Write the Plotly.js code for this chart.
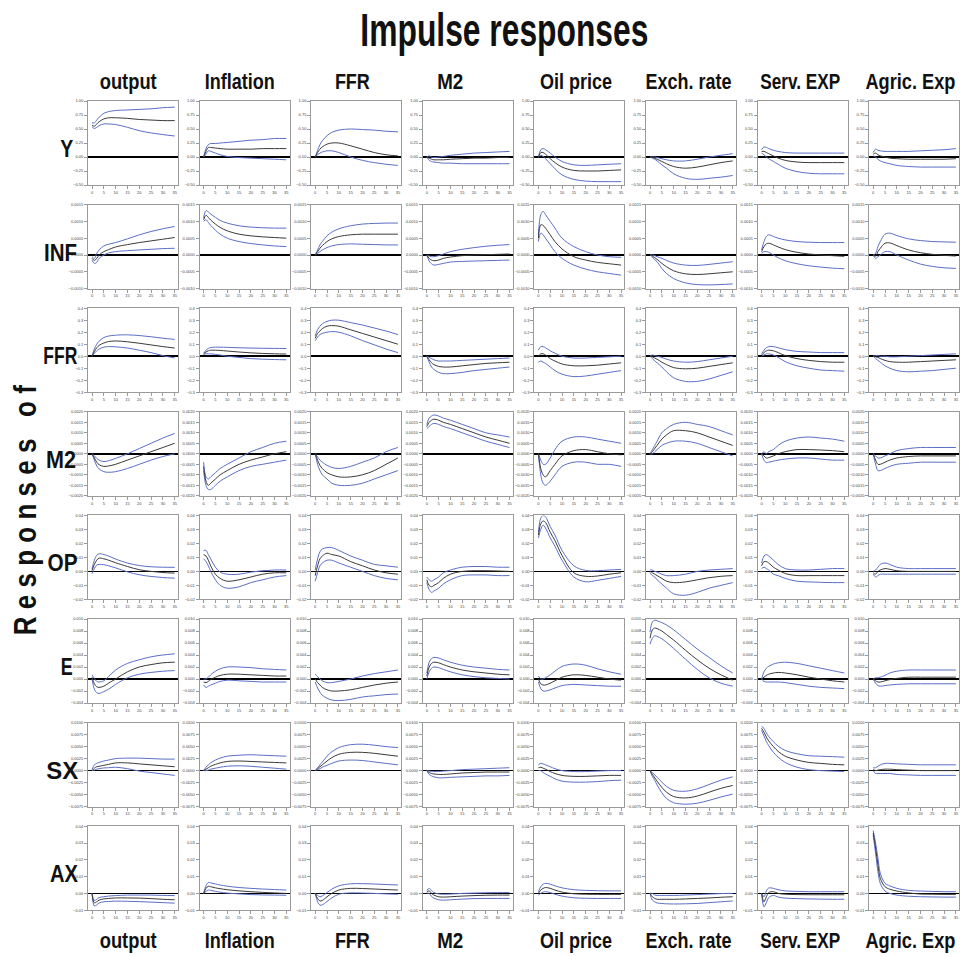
<!DOCTYPE html>
<html>
<head>
<meta charset="utf-8">
<script src="https://cdn.plot.ly/plotly-3.0.1.min.js"></script>
<style>html,body{margin:0;padding:0;background:#fff;}#chart{width:961px;height:956px;}</style>
</head>
<body>
<div id="chart"></div>
<script>
// ---------------- DATA ----------------
const horizons = [0,1,2,3,5,7,10,15,20,25,30,35];
const shocks = ['output','Inflation','FFR','M2','Oil price','Exch. rate','Serv. EXP','Agric. Exp'];
const responses = ['Y','INF','FFR','M2','OP','E','SX','AX'];
const xTicks = [0,5,10,15,20,25,30,35];

// Response of Y to each shock (mid = point estimate, lo/hi = bands)
const Y_mid = [
 [0.57,0.55,0.59,0.63,0.68,0.70,0.70,0.69,0.67,0.66,0.65,0.65],
 [0,0.10,0.17,0.17,0.16,0.15,0.14,0.14,0.14,0.15,0.15,0.15],
 [0,0.08,0.14,0.18,0.23,0.25,0.25,0.2,0.14,0.08,0.04,0.02],
 [0,-0.02,-0.04,-0.05,-0.05,-0.05,-0.04,-0.03,-0.02,-0.02,-0.01,-0.01],
 [0,0.08,0.08,0.05,-0.03,-0.1,-0.18,-0.24,-0.25,-0.25,-0.24,-0.23],
 [0,-0.01,-0.02,-0.04,-0.08,-0.12,-0.17,-0.2,-0.18,-0.14,-0.1,-0.07],
 [0.1,0.1,0.08,0.06,0.02,-0.02,-0.06,-0.09,-0.1,-0.1,-0.1,-0.1],
 [0.05,0.07,0.04,0.02,0.0,-0.02,-0.03,-0.04,-0.04,-0.04,-0.04,-0.03]];
const Y_hi = [
 [0.61,0.61,0.66,0.71,0.78,0.81,0.83,0.84,0.85,0.86,0.88,0.89],
 [0,0.15,0.22,0.24,0.24,0.25,0.26,0.28,0.30,0.31,0.33,0.33],
 [0,0.12,0.22,0.29,0.38,0.44,0.48,0.50,0.49,0.48,0.46,0.45],
 [0,0.02,0.0,-0.01,0.0,0.01,0.03,0.05,0.07,0.08,0.09,0.1],
 [0,0.13,0.15,0.13,0.07,0.0,-0.08,-0.14,-0.15,-0.14,-0.13,-0.12],
 [0,0.0,0.0,-0.01,-0.03,-0.05,-0.07,-0.07,-0.04,0.0,0.03,0.06],
 [0.13,0.18,0.17,0.15,0.12,0.1,0.08,0.07,0.07,0.07,0.07,0.07],
 [0.08,0.14,0.12,0.11,0.1,0.1,0.1,0.1,0.11,0.12,0.13,0.15]];
const Y_lo = [
 [0.54,0.51,0.53,0.56,0.59,0.59,0.58,0.53,0.47,0.43,0.40,0.375],
 [0,0.05,0.11,0.10,0.07,0.04,0.01,-0.01,-0.02,-0.03,-0.04,-0.05],
 [0,0.04,0.07,0.09,0.11,0.11,0.08,0.0,-0.06,-0.1,-0.13,-0.15],
 [0,-0.06,-0.08,-0.09,-0.1,-0.11,-0.11,-0.12,-0.12,-0.12,-0.12,-0.12],
 [0,0.03,0.01,-0.03,-0.12,-0.21,-0.32,-0.40,-0.43,-0.44,-0.44,-0.44],
 [0,-0.02,-0.04,-0.07,-0.14,-0.2,-0.3,-0.38,-0.4,-0.38,-0.36,-0.33],
 [0.07,0.04,0.0,-0.03,-0.08,-0.13,-0.2,-0.26,-0.29,-0.3,-0.3,-0.3],
 [0.02,0.0,-0.04,-0.07,-0.1,-0.12,-0.15,-0.17,-0.18,-0.18,-0.18,-0.18]];

// Response of INF
const INF_mid = [
 [-0.0001,-0.00016,-0.0001,0.0,0.0001,0.00016,0.00024,0.00031,0.00037,0.00042,0.00047,0.00052],
 [0.00105,0.00118,0.00112,0.00104,0.00092,0.00082,0.00072,0.00062,0.00057,0.00054,0.00052,0.0005],
 [0,0.0001,0.0002,0.00028,0.0004,0.00048,0.00055,0.0006,0.00062,0.00062,0.00062,0.00062],
 [0,-0.0001,-0.00015,-0.00017,-0.00015,-0.0001,-0.00006,-0.00002,0.0,0.00001,0.00002,0.00003],
 [0.0005,0.0009,0.00088,0.0008,0.0006,0.0004,0.00018,-0.00005,-0.00015,-0.00022,-0.00026,-0.0003],
 [0,-0.00003,-0.00008,-0.00013,-0.00025,-0.00035,-0.00047,-0.00056,-0.00058,-0.00056,-0.00053,-0.0005],
 [0.0001,0.00025,0.00033,0.00035,0.0003,0.00024,0.00016,0.00008,0.00003,0.0,-0.00002,-0.00004],
 [0,-0.00003,0.0001,0.0002,0.00035,0.00036,0.00028,0.00015,0.00007,0.00002,-0.00001,-0.00003]];
const INF_hi = [
 [-0.00005,-0.0001,0.00005,0.00015,0.00027,0.00032,0.00037,0.00048,0.0006,0.0007,0.00078,0.00085],
 [0.0011,0.00132,0.00128,0.00122,0.00112,0.00103,0.00095,0.00087,0.00083,0.00081,0.0008,0.0008],
 [0,0.00015,0.0003,0.0004,0.00057,0.00068,0.00078,0.00087,0.00092,0.00094,0.00095,0.00095],
 [0,-0.00003,-0.00005,-0.00005,-0.00002,0.00003,0.0001,0.00017,0.00022,0.00026,0.00029,0.00031],
 [0.0006,0.0012,0.0013,0.0012,0.001,0.0008,0.0005,0.00025,0.0001,0.0,-0.00005,-0.00007],
 [0,0.0,-0.00002,-0.00005,-0.0001,-0.00016,-0.00024,-0.0003,-0.00031,-0.00028,-0.00024,-0.0002],
 [0.00015,0.0004,0.00055,0.0006,0.00055,0.0005,0.00045,0.0004,0.00038,0.00037,0.00037,0.00037],
 [0,0.00005,0.00025,0.0004,0.00062,0.00065,0.00058,0.00048,0.00043,0.0004,0.00039,0.00038]];
const INF_lo = [
 [-0.00015,-0.00025,-0.00022,-0.0001,0.0,0.00006,0.0001,0.00013,0.00015,0.00017,0.00019,0.0002],
 [0.001,0.00105,0.00097,0.00088,0.00074,0.00062,0.0005,0.0004,0.00034,0.0003,0.00027,0.00025],
 [0,0.00005,0.0001,0.00015,0.00022,0.00027,0.00031,0.00033,0.00032,0.00031,0.0003,0.0003],
 [0,-0.00018,-0.00026,-0.0003,-0.00028,-0.00025,-0.00021,-0.00019,-0.00018,-0.00017,-0.00016,-0.00015],
 [0.0004,0.00065,0.0006,0.0005,0.0003,0.0001,-0.0001,-0.0003,-0.00042,-0.0005,-0.00055,-0.0006],
 [0,-0.00006,-0.00014,-0.0002,-0.0004,-0.00055,-0.0007,-0.00083,-0.00088,-0.00089,-0.00088,-0.00086],
 [0.00005,0.0001,0.0001,0.00008,0.0,-0.00008,-0.00017,-0.00026,-0.00032,-0.00036,-0.00039,-0.00041],
 [0,-0.0001,-0.00005,0.0,0.0001,0.0001,0.0,-0.00015,-0.00027,-0.00034,-0.00038,-0.0004]];

// Response of FFR
const FFR_mid = [
 [0,0.04,0.07,0.09,0.11,0.122,0.127,0.12,0.108,0.094,0.08,0.068],
 [0.02,0.035,0.045,0.05,0.05,0.048,0.043,0.035,0.028,0.023,0.02,0.018],
 [0.15,0.19,0.21,0.23,0.25,0.255,0.25,0.22,0.19,0.16,0.13,0.1],
 [0,-0.03,-0.055,-0.07,-0.085,-0.09,-0.09,-0.08,-0.07,-0.06,-0.055,-0.05],
 [0,0.02,0.02,0.01,-0.02,-0.04,-0.065,-0.08,-0.08,-0.075,-0.065,-0.055],
 [0,-0.005,-0.015,-0.025,-0.05,-0.07,-0.095,-0.105,-0.1,-0.085,-0.07,-0.055],
 [0.01,0.03,0.045,0.05,0.045,0.03,0.005,-0.02,-0.035,-0.045,-0.05,-0.05],
 [0,-0.005,-0.01,-0.02,-0.035,-0.045,-0.05,-0.05,-0.045,-0.04,-0.035,-0.03]];
const FFR_hi = [
 [0,0.06,0.1,0.125,0.155,0.168,0.175,0.178,0.172,0.162,0.15,0.14],
 [0.025,0.05,0.065,0.072,0.075,0.075,0.074,0.07,0.068,0.066,0.065,0.064],
 [0.17,0.22,0.25,0.27,0.29,0.3,0.3,0.28,0.26,0.235,0.21,0.18],
 [0,-0.01,-0.02,-0.03,-0.04,-0.04,-0.04,-0.035,-0.03,-0.025,-0.02,-0.015],
 [0.05,0.08,0.08,0.07,0.045,0.025,0.0,-0.015,-0.015,-0.01,-0.005,0.0],
 [0,0.01,0.005,0.0,-0.01,-0.025,-0.04,-0.05,-0.045,-0.03,-0.015,0.0],
 [0.02,0.05,0.07,0.08,0.08,0.07,0.055,0.04,0.035,0.03,0.03,0.03],
 [0,0.005,0.005,0.0,0.0,-0.005,-0.005,0.0,0.005,0.01,0.015,0.02]];
const FFR_lo = [
 [0,0.025,0.045,0.06,0.075,0.08,0.078,0.068,0.05,0.03,0.005,-0.015],
 [0.015,0.02,0.02,0.02,0.015,0.01,0.0,-0.01,-0.02,-0.025,-0.028,-0.03],
 [0.13,0.16,0.18,0.19,0.2,0.205,0.2,0.17,0.13,0.095,0.06,0.03],
 [0,-0.05,-0.09,-0.11,-0.135,-0.145,-0.145,-0.135,-0.12,-0.11,-0.1,-0.09],
 [-0.05,-0.04,-0.05,-0.06,-0.09,-0.12,-0.15,-0.17,-0.165,-0.15,-0.135,-0.12],
 [0,-0.02,-0.04,-0.055,-0.09,-0.13,-0.18,-0.21,-0.21,-0.19,-0.16,-0.13],
 [0.0,0.01,0.02,0.02,0.01,-0.01,-0.045,-0.08,-0.1,-0.115,-0.12,-0.125],
 [0,-0.02,-0.035,-0.05,-0.08,-0.1,-0.12,-0.13,-0.125,-0.12,-0.11,-0.1]];

// Response of M2
const M2_mid = [
 [0,-0.0002,-0.0004,-0.00052,-0.0006,-0.00058,-0.0005,-0.0003,-0.0001,0.0001,0.0003,0.0005],
 [-0.0006,-0.0013,-0.0015,-0.0014,-0.0012,-0.001,-0.0008,-0.0005,-0.0003,-0.00015,0.0,0.0001],
 [0,-0.0003,-0.00055,-0.0007,-0.0009,-0.001,-0.0011,-0.0011,-0.001,-0.0008,-0.0005,-0.0002],
 [0.0013,0.0015,0.0016,0.00165,0.0016,0.0015,0.0014,0.0012,0.001,0.0008,0.00065,0.0005],
 [0,-0.0007,-0.001,-0.0011,-0.0008,-0.0005,-0.0001,0.00015,0.0002,0.0001,0.0,-0.00005],
 [0,0.0001,0.00025,0.0004,0.0007,0.0009,0.0011,0.0011,0.001,0.0008,0.0006,0.0004],
 [0,-0.0001,-0.0002,-0.00018,-0.0001,0.0,0.0001,0.0002,0.0002,0.00018,0.00015,0.0001],
 [0,-0.0003,-0.0005,-0.0005,-0.0004,-0.0003,-0.0002,-0.00013,-0.0001,-0.0001,-0.0001,-0.0001]];
const M2_hi = [
 [0,-0.0001,-0.00022,-0.0003,-0.00037,-0.00033,-0.00022,0.0,0.00025,0.0005,0.00075,0.00097],
 [-0.0004,-0.0011,-0.0012,-0.0011,-0.0009,-0.0007,-0.0005,-0.0002,0.0001,0.0003,0.0005,0.0006],
 [0,-0.00015,-0.0003,-0.0004,-0.00055,-0.00065,-0.0007,-0.0006,-0.0004,-0.0002,0.0001,0.0003],
 [0.0014,0.0017,0.0018,0.00185,0.0018,0.0017,0.0016,0.0014,0.0012,0.001,0.0009,0.0008],
 [0,-0.0003,-0.0005,-0.0005,-0.0002,0.0002,0.0006,0.0008,0.0008,0.0007,0.0006,0.0005],
 [0,0.0002,0.0004,0.0006,0.001,0.0012,0.0014,0.0015,0.0014,0.0013,0.0011,0.0009],
 [0,0.0001,0.0,0.0001,0.0002,0.0004,0.0006,0.00075,0.0008,0.00075,0.0007,0.0006],
 [0,-0.0001,-0.0002,-0.0002,-0.0001,0.0,0.00015,0.00025,0.0003,0.0003,0.0003,0.0003]];
const M2_lo = [
 [0,-0.0003,-0.00058,-0.00072,-0.00085,-0.00088,-0.00085,-0.0007,-0.0005,-0.0003,-0.00013,0.0],
 [-0.0008,-0.0015,-0.0017,-0.0017,-0.0015,-0.0013,-0.0011,-0.0008,-0.0006,-0.0005,-0.0004,-0.0003],
 [0,-0.0005,-0.0008,-0.001,-0.0012,-0.0014,-0.0015,-0.0015,-0.0014,-0.0012,-0.001,-0.0008],
 [0.0012,0.0013,0.0014,0.00145,0.0014,0.0013,0.0012,0.001,0.0008,0.0006,0.00045,0.0003],
 [0,-0.001,-0.0014,-0.0015,-0.0013,-0.001,-0.0006,-0.0004,-0.0004,-0.0005,-0.0005,-0.0006],
 [0,0.0,0.0001,0.0002,0.0004,0.0005,0.0006,0.0006,0.0005,0.0003,0.0001,-0.0001],
 [0,-0.0003,-0.00042,-0.0004,-0.00035,-0.0003,-0.00025,-0.0002,-0.0002,-0.00025,-0.0003,-0.0003],
 [0,-0.0005,-0.0008,-0.0008,-0.0007,-0.0006,-0.0005,-0.00045,-0.0004,-0.0004,-0.0004,-0.0004]];

// Response of OP (oil price)
const OP_mid = [
 [0.0005,0.005,0.008,0.0095,0.009,0.008,0.0062,0.0035,0.0012,0.0,-0.0008,-0.0012],
 [0.012,0.011,0.008,0.004,-0.002,-0.005,-0.007,-0.006,-0.004,-0.002,-0.001,-0.001],
 [-0.003,0.004,0.009,0.011,0.013,0.012,0.011,0.007,0.004,0.001,-0.001,-0.002],
 [-0.006,-0.01,-0.011,-0.01,-0.008,-0.005,-0.002,0.0,0.0005,0.0005,0.0003,0.0],
 [0.026,0.034,0.036,0.035,0.028,0.022,0.0114,-0.001,-0.0035,-0.0033,-0.002,-0.001],
 [0,-0.001,-0.002,-0.003,-0.005,-0.007,-0.008,-0.0075,-0.006,-0.0045,-0.0035,-0.003],
 [0.004,0.007,0.007,0.006,0.003,0.001,-0.0015,-0.003,-0.003,-0.003,-0.003,-0.003],
 [-0.001,-0.002,0.0,0.001,0.002,0.0015,0.0005,0.0,0.0,0.0,0.0,0.0]];
const OP_hi = [
 [0.0017,0.008,0.0115,0.0126,0.012,0.011,0.0088,0.006,0.0042,0.0033,0.003,0.0029],
 [0.015,0.015,0.012,0.009,0.003,-0.0005,-0.002,-0.002,-0.0005,0.0005,0.001,0.001],
 [0.001,0.009,0.014,0.016,0.017,0.017,0.015,0.011,0.008,0.005,0.004,0.003],
 [-0.004,-0.006,-0.007,-0.006,-0.004,-0.001,0.001,0.003,0.0035,0.0035,0.003,0.003],
 [0.028,0.038,0.04,0.039,0.032,0.026,0.015,0.004,0.0007,0.0005,0.001,0.0014],
 [0.001,0.001,0.0,-0.0005,-0.002,-0.003,-0.003,-0.002,0.0,0.001,0.0015,0.002],
 [0.006,0.011,0.012,0.011,0.008,0.005,0.002,0.001,0.001,0.0015,0.002,0.002],
 [0.0,0.001,0.003,0.005,0.006,0.005,0.003,0.002,0.002,0.002,0.002,0.002]];
const OP_lo = [
 [-0.0017,0.002,0.0045,0.005,0.0048,0.004,0.0025,-0.0003,-0.0024,-0.0036,-0.0044,-0.0048],
 [0.009,0.007,0.004,0.0,-0.006,-0.01,-0.012,-0.011,-0.008,-0.006,-0.004,-0.003],
 [-0.007,-0.001,0.004,0.006,0.008,0.008,0.006,0.003,0.0,-0.003,-0.005,-0.006],
 [-0.008,-0.013,-0.015,-0.014,-0.012,-0.009,-0.006,-0.003,-0.0025,-0.0025,-0.003,-0.003],
 [0.024,0.03,0.033,0.031,0.024,0.018,0.008,-0.004,-0.0074,-0.0064,-0.005,-0.0036],
 [-0.001,-0.003,-0.004,-0.006,-0.009,-0.012,-0.016,-0.017,-0.015,-0.012,-0.01,-0.008],
 [0.002,0.003,0.002,0.001,-0.002,-0.003,-0.005,-0.007,-0.0075,-0.0078,-0.008,-0.008],
 [-0.002,-0.004,-0.003,-0.002,-0.002,-0.002,-0.002,-0.002,-0.002,-0.002,-0.002,-0.002]];

// Response of E (exchange rate)
const E_mid = [
 [0.0003,-0.0008,-0.0013,-0.0014,-0.0012,-0.0007,0.0,0.0012,0.002,0.0024,0.0027,0.0028],
 [-0.0005,-0.0006,-0.0004,-0.0001,0.0003,0.0006,0.0008,0.0008,0.0007,0.0006,0.0005,0.0005],
 [0.0,-0.0006,-0.001,-0.0014,-0.0018,-0.002,-0.002,-0.0018,-0.0014,-0.001,-0.0007,-0.0005],
 [0.0005,0.002,0.0026,0.0028,0.0027,0.0024,0.002,0.0015,0.0012,0.001,0.0008,0.0007],
 [0.0,-0.0008,-0.001,-0.001,-0.0007,-0.0003,0.0003,0.0007,0.0006,0.0003,0.0,-0.0002],
 [0.0068,0.0082,0.0085,0.0084,0.008,0.0074,0.0065,0.0048,0.0032,0.0018,0.0007,-0.0002],
 [0.0,0.0003,0.0006,0.0008,0.001,0.0011,0.001,0.0007,0.0003,0.0,-0.0003,-0.0005],
 [0.0,-0.0003,-0.0005,-0.0005,-0.0003,-0.0001,0.0001,0.0003,0.0003,0.0003,0.0003,0.0003]];
const E_hi = [
 [0.0007,0.0001,-0.0004,-0.0005,-0.0003,0.0004,0.0015,0.0026,0.0032,0.0037,0.004,0.0042],
 [0.0,0.0,0.0003,0.0007,0.0013,0.0017,0.002,0.002,0.0019,0.0017,0.0016,0.0015],
 [0.0008,0.0004,0.0,-0.0003,-0.0006,-0.0006,-0.0004,0.0,0.0005,0.0009,0.0012,0.0015],
 [0.001,0.0028,0.0034,0.0036,0.0035,0.0032,0.0028,0.0023,0.002,0.0018,0.0016,0.0015],
 [0.0005,0.0,0.0,0.0002,0.0007,0.0013,0.0021,0.0025,0.0023,0.0017,0.0012,0.0008],
 [0.0078,0.0095,0.0098,0.0097,0.0094,0.009,0.0082,0.0066,0.005,0.0036,0.0022,0.001],
 [0.0,0.0012,0.0018,0.0021,0.0025,0.0027,0.0028,0.0026,0.0022,0.0018,0.0014,0.001],
 [0.0,0.0002,0.0002,0.0003,0.0006,0.001,0.0013,0.0015,0.0015,0.0015,0.0015,0.0015]];
const E_lo = [
 [0.0,-0.0017,-0.0023,-0.0024,-0.0021,-0.0017,-0.0009,0.0002,0.0008,0.0011,0.0013,0.0014],
 [-0.001,-0.0014,-0.0012,-0.001,-0.0007,-0.0004,-0.0002,-0.0003,-0.0004,-0.0005,-0.0005,-0.0005],
 [-0.0005,-0.0015,-0.0022,-0.0027,-0.0032,-0.0035,-0.0036,-0.0034,-0.003,-0.0028,-0.0026,-0.0025],
 [0.0,0.0012,0.0018,0.002,0.0019,0.0016,0.0012,0.0007,0.0004,0.0002,0.0001,0.0],
 [-0.0005,-0.0016,-0.002,-0.002,-0.0018,-0.0015,-0.0011,-0.0009,-0.001,-0.0011,-0.0012,-0.0012],
 [0.0058,0.0068,0.0072,0.0071,0.0067,0.0061,0.0051,0.0033,0.0016,0.0002,-0.0007,-0.0012],
 [0.0,-0.0004,-0.0005,-0.0005,-0.0005,-0.0005,-0.0006,-0.0009,-0.0012,-0.0014,-0.0015,-0.0016],
 [0.0,-0.0007,-0.0011,-0.0012,-0.0011,-0.001,-0.0009,-0.0008,-0.0008,-0.0008,-0.0008,-0.0008]];

// Response of SX (services exports)
const SX_mid = [
 [0.0,0.0005,0.0008,0.0009,0.0011,0.0013,0.0016,0.0016,0.0014,0.0012,0.001,0.0008],
 [0.0,0.0003,0.0006,0.0009,0.0013,0.0016,0.0019,0.002,0.0019,0.0018,0.0017,0.0016],
 [0.0,0.0004,0.0008,0.0012,0.002,0.0027,0.0034,0.0038,0.0038,0.0036,0.0033,0.003],
 [0.0,-0.0004,-0.0006,-0.0007,-0.0008,-0.0008,-0.0007,-0.0005,-0.0004,-0.0003,-0.0003,-0.0003],
 [0.0006,0.0007,0.0005,0.0003,-0.0002,-0.0006,-0.001,-0.0012,-0.0012,-0.0011,-0.001,-0.001],
 [0.0,-0.0008,-0.0015,-0.0022,-0.0035,-0.0045,-0.0054,-0.0057,-0.0053,-0.0045,-0.0037,-0.0031],
 [0.0088,0.008,0.007,0.0062,0.005,0.004,0.003,0.0022,0.0017,0.0015,0.0013,0.0012],
 [0.0003,0.0,0.0001,0.0002,0.0003,0.0003,0.0002,0.0001,0.0,0.0,0.0,0.0]];
const SX_hi = [
 [0.0002,0.0012,0.0015,0.0017,0.002,0.0022,0.0025,0.0026,0.0026,0.0025,0.0024,0.0024],
 [0.0,0.0007,0.0012,0.0016,0.0022,0.0026,0.003,0.0032,0.0033,0.0032,0.0031,0.003],
 [0.0,0.0006,0.0012,0.0018,0.003,0.0039,0.0048,0.0054,0.0055,0.0053,0.005,0.0048],
 [0.0,-0.0001,-0.0002,-0.0002,-0.0002,-0.0001,0.0,0.0002,0.0003,0.0004,0.0005,0.0006],
 [0.0012,0.0015,0.0014,0.0012,0.0008,0.0004,0.0,-0.0002,-0.0002,-0.0001,0.0,0.0],
 [0.0,-0.0004,-0.0009,-0.0014,-0.0024,-0.0033,-0.0041,-0.0043,-0.0038,-0.0029,-0.002,-0.0013],
 [0.0092,0.0088,0.0079,0.0071,0.006,0.0051,0.0042,0.0035,0.0031,0.003,0.0029,0.0028],
 [0.0006,0.0006,0.0009,0.0012,0.0015,0.0015,0.0014,0.0013,0.0012,0.0012,0.0012,0.0012]];
const SX_lo = [
 [0.0,0.0001,0.0003,0.0004,0.00055,0.0006,0.0007,0.0004,-0.0001,-0.0004,-0.0007,-0.001],
 [0.0,0.0,0.0001,0.0003,0.0005,0.0007,0.0009,0.001,0.0009,0.0007,0.0005,0.0003],
 [0.0,0.0002,0.0004,0.0007,0.0011,0.0015,0.002,0.0022,0.0021,0.0018,0.0015,0.0012],
 [0.0,-0.0008,-0.0011,-0.0013,-0.0015,-0.0015,-0.0014,-0.0013,-0.0012,-0.0011,-0.0011,-0.001],
 [0.0,0.0,-0.0004,-0.0007,-0.0012,-0.0017,-0.0022,-0.0024,-0.0024,-0.0023,-0.0021,-0.002],
 [0.0,-0.0012,-0.002,-0.003,-0.0046,-0.0058,-0.0067,-0.007,-0.0068,-0.0062,-0.0055,-0.0049],
 [0.0084,0.0072,0.0061,0.0052,0.0038,0.0028,0.0017,0.0007,0.0002,0.0,-0.0001,-0.0002],
 [0.0,-0.0006,-0.0006,-0.0006,-0.0006,-0.0006,-0.0008,-0.0009,-0.001,-0.001,-0.001,-0.001]];

// Response of AX (agricultural exports)
const AX_mid = [
 [0,-0.0056,-0.005,-0.004,-0.0033,-0.003,-0.0027,-0.0027,-0.0028,-0.0031,-0.0035,-0.0038],
 [0.0,0.003,0.0042,0.004,0.0033,0.0028,0.0022,0.0015,0.001,0.0006,0.0003,0.0],
 [0.0,-0.003,-0.0045,-0.0042,-0.002,0.0,0.002,0.003,0.0029,0.0026,0.0023,0.002],
 [0.001,0.0015,0.0,-0.001,-0.002,-0.0022,-0.002,-0.0016,-0.0013,-0.0011,-0.001,-0.001],
 [0.0,0.002,0.003,0.0035,0.003,0.002,0.0008,-0.0002,-0.0005,-0.0006,-0.0006,-0.0006],
 [0.0,-0.002,-0.003,-0.0035,-0.0035,-0.0035,-0.0035,-0.0033,-0.003,-0.0027,-0.0023,-0.002],
 [0.0,-0.005,-0.002,0.0005,0.001,0.0,-0.0005,-0.0007,-0.0008,-0.0008,-0.0008,-0.0008],
 [0.036,0.027,0.017,0.009,0.004,0.0025,0.0014,0.0003,-0.0004,-0.0005,-0.0006,-0.0006]];
const AX_hi = [
 [0,-0.0042,-0.0035,-0.0025,-0.002,-0.0016,-0.0013,-0.001,-0.001,-0.001,-0.0012,-0.0013],
 [0.0,0.0045,0.0065,0.0063,0.0056,0.005,0.0043,0.0035,0.003,0.0026,0.0023,0.002],
 [0.0,-0.0012,-0.002,-0.0015,0.0005,0.0025,0.0045,0.0057,0.0058,0.0056,0.0053,0.005],
 [0.0018,0.003,0.0018,0.0005,-0.0003,-0.0005,-0.0004,0.0,0.0002,0.0004,0.0005,0.0005],
 [0.001,0.004,0.0055,0.006,0.0055,0.0045,0.0033,0.0022,0.0018,0.0016,0.0015,0.0015],
 [0.0,0.0,-0.001,-0.0012,-0.0012,-0.0012,-0.0012,-0.001,-0.0007,-0.0004,-0.0001,0.0],
 [0.0,-0.002,0.0015,0.0032,0.003,0.0022,0.0015,0.0012,0.001,0.001,0.001,0.001],
 [0.0374,0.03,0.021,0.012,0.006,0.0045,0.003,0.0018,0.0014,0.0012,0.001,0.001]];
const AX_lo = [
 [0,-0.0075,-0.0068,-0.0057,-0.005,-0.0048,-0.0046,-0.0047,-0.0049,-0.0052,-0.0055,-0.0058],
 [0.0,0.0012,0.002,0.0018,0.0012,0.0007,0.0002,-0.0003,-0.0007,-0.0009,-0.001,-0.0011],
 [0.0,-0.005,-0.007,-0.0068,-0.0048,-0.0027,-0.0005,0.0003,0.0002,0.0,-0.0003,-0.0005],
 [0.0002,0.0,-0.0018,-0.0028,-0.0038,-0.004,-0.0038,-0.0034,-0.0031,-0.003,-0.003,-0.003],
 [-0.001,0.0,0.0008,0.001,0.0005,-0.0005,-0.0016,-0.0026,-0.0029,-0.003,-0.003,-0.003],
 [0.0,-0.004,-0.005,-0.0057,-0.006,-0.0062,-0.0063,-0.0062,-0.006,-0.0055,-0.005,-0.0045],
 [0.0,-0.008,-0.0055,-0.0025,-0.0012,-0.0022,-0.0028,-0.0031,-0.0033,-0.0034,-0.0035,-0.0035],
 [0.0346,0.024,0.013,0.006,0.0014,0.0,-0.001,-0.0017,-0.002,-0.0021,-0.0022,-0.0022]];

// ---------------- CHART ----------------
const midSets = [Y_mid, INF_mid, FFR_mid, M2_mid, OP_mid, E_mid, SX_mid, AX_mid];
const hiSets  = [Y_hi, INF_hi, FFR_hi, M2_hi, OP_hi, E_hi, SX_hi, AX_hi];
const loSets  = [Y_lo, INF_lo, FFR_lo, M2_lo, OP_lo, E_lo, SX_lo, AX_lo];

const yCfg = [
  {range:[-0.5,1.0], dtick:0.25, fmt:'.2f'},
  {range:[-0.001,0.0015], dtick:0.0005, fmt:'.4f'},
  {range:[-0.3,0.4], dtick:0.1, fmt:'.1f'},
  {range:[-0.002,0.002], dtick:0.0005, fmt:'.4f'},
  {range:[-0.02,0.04], dtick:0.01, fmt:'.2f'},
  {range:[-0.004,0.010], dtick:0.002, fmt:'.3f'},
  {range:[-0.0075,0.01], dtick:0.0025, fmt:'.4f'},
  {range:[-0.01,0.04], dtick:0.01, fmt:'.2f'}
];

const W = 961, H = 956;
const colLeft0 = 88, colStep = 111.6, panelW = 90;
const rowTop0 = 101, rowStep = 103.6, panelH = 84;
const FONT = '"Liberation Sans Narrow", "Arial Narrow", "Liberation Sans", Arial, sans-serif';
const blue = '#5b6ec6', dark = '#3a3a3a', axisGray = '#9a9a9a';

const traces = [];
const layout = {
  width: W, height: H,
  margin: {l:0, r:0, t:0, b:0},
  paper_bgcolor: '#fff', plot_bgcolor: '#fff',
  showlegend: false,
  annotations: []
};
const textWidths = []; // condensed look: target rendered width for each annotation (px)

for (let r = 0; r < 8; r++) {
  for (let c = 0; c < 8; c++) {
    const k = r*8 + c + 1;
    const xa = 'x' + (k === 1 ? '' : k), ya = 'y' + (k === 1 ? '' : k);
    const xName = 'xaxis' + (k === 1 ? '' : k), yName = 'yaxis' + (k === 1 ? '' : k);
    const left = colLeft0 + colStep*c, top = rowTop0 + rowStep*r;
    layout[xName] = {
      domain: [left/W, (left+panelW)/W], anchor: ya, range: [-1.7, 36.4],
      tickmode: 'array', tickvals: xTicks, ticks: 'outside', ticklen: 3, tickcolor: axisGray,
      showline: true, mirror: true, linecolor: axisGray, linewidth: 1,
      showgrid: false, zeroline: false, fixedrange: true,
      tickfont: {size: 4, color: '#444', family: 'Liberation Sans, Arial, sans-serif'}
    };
    const cfg = yCfg[r];
    layout[yName] = {
      domain: [1-(top+panelH)/H, 1-top/H], anchor: xa, range: cfg.range,
      tick0: 0, dtick: cfg.dtick, tickformat: cfg.fmt, ticks: 'outside', ticklen: 3, tickcolor: axisGray,
      showline: true, mirror: true, linecolor: axisGray, linewidth: 1,
      showgrid: false, zeroline: true, zerolinecolor: '#000', zerolinewidth: 1.5, fixedrange: true,
      tickfont: {size: 4, color: '#444', family: 'Liberation Sans, Arial, sans-serif'}
    };
    const sets = [[hiSets[r][c], blue], [loSets[r][c], blue], [midSets[r][c], dark]];
    sets.forEach(([vals, col]) => {
      traces.push({
        x: horizons, y: vals, xaxis: xa, yaxis: ya, type: 'scatter', mode: 'lines',
        line: {color: col, width: 1, shape: 'spline', smoothing: 1}, hoverinfo: 'skip'
      });
    });
  }
}

function addText(txt, px, py, size, width, angle) {
  layout.annotations.push({text: txt, x: px/W, y: 1-py/H, xref: 'paper', yref: 'paper',
    showarrow: false, textangle: angle || 0,
    font: {family: FONT, size: size, color: '#111', weight: 'bold'}, xanchor: 'center', yanchor: 'middle'});
  textWidths.push(width);
}

// Title
addText('Impulse responses', 504, 30, 46, 288);

// Column headers (top & bottom)
const headerX = [128, 240, 352, 450, 576, 688, 800, 910];
const headerW = [57, 70, 35, 26, 72, 86, 80, 90];
shocks.forEach((s, i) => {
  addText(s, headerX[i], 82, 22, headerW[i]);
  addText(s, headerX[i], 940, 22, headerW[i]);
});

// Row labels
const rowLabelX = [66, 61, 60, 61, 62, 66, 62, 64];
const rowLabelW = [13, 33, 34, 30, 30, 12, 32, 28];
responses.forEach((s, i) => {
  const yy = rowTop0 + rowStep*i + panelH/2 + 6;
  addText(s, rowLabelX[i], yy, 23, rowLabelW[i]);
});

// Vertical label
addText('R e s p o n s e s   o f', 25, 510, 32, 250, -90);

Plotly.newPlot('chart', traces, layout, {staticPlot: true, displayModeBar: false}).then(gd => {
  const texts = gd.querySelectorAll('.annotation-text');
  texts.forEach((t, i) => {
    if (textWidths[i]) {
      t.setAttribute('textLength', textWidths[i]);
      t.setAttribute('lengthAdjust', 'spacingAndGlyphs');
    }
  });
});
</script>
</body>
</html>
